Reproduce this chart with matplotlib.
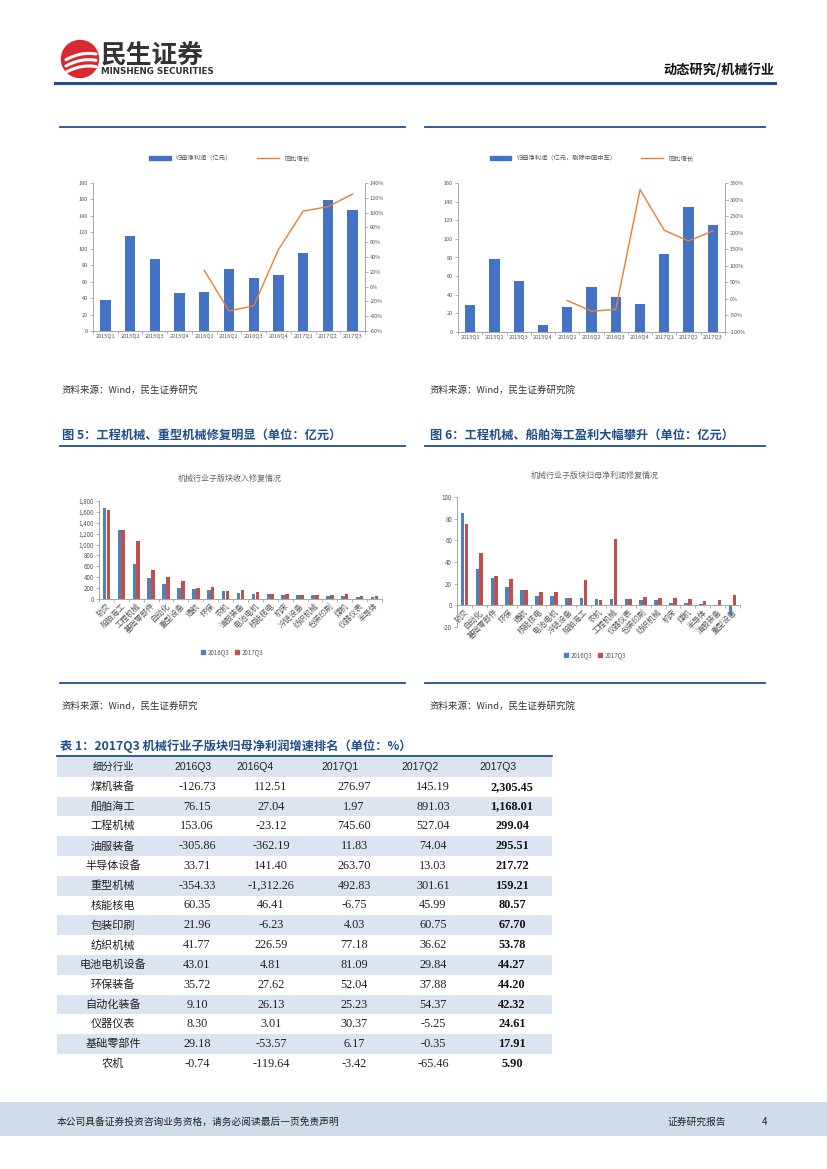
import numpy as np
import matplotlib
matplotlib.use("Agg")
import matplotlib.pyplot as plt
from matplotlib.patches import Rectangle, Circle, Patch
from matplotlib.lines import Line2D
from matplotlib.ticker import FuncFormatter, FixedLocator

plt.rcParams['font.family'] = ['Noto Sans CJK SC', 'DejaVu Sans']

# ---------------- data ----------------
quarters = ["2015Q1", "2015Q2", "2015Q3", "2015Q4", "2016Q1", "2016Q2",
            "2016Q3", "2016Q4", "2017Q1", "2017Q2", "2017Q3"]
profit_all = [38, 115, 88, 46, 47, 76, 65, 68, 95, 159, 147]
growth_all = [np.nan, np.nan, np.nan, np.nan, 22, -33, -26, 50, 102, 108, 125]
profit_ex = [29, 78, 55, 7, 27, 48, 38, 30, 84, 134, 115]
growth_ex = [np.nan, np.nan, np.nan, np.nan, -5, -37, -32, 330, 207, 175, 205]

rev_cats = ["轨交", "船舶海工", "工程机械", "基础零部件", "自动化", "重型设备", "通航",
            "环保", "农机", "油服装备", "电池电机", "核能核电", "机床", "冷链设备",
            "纺织机械", "包装印刷", "煤机", "仪器仪表", "半导体"]
rev_2016q3 = [1680, 1270, 650, 390, 275, 200, 175, 165, 155, 105, 95, 85, 70, 65, 65, 50, 50, 45, 30]
rev_2017q3 = [1630, 1270, 1060, 530, 400, 330, 195, 220, 140, 165, 135, 100, 85, 65, 75, 75, 90, 50, 50]

np_cats = ["轨交", "自动化", "基础零部件", "环保", "通航", "核能核电", "电池电机", "冷链设备",
           "船舶海工", "农机", "工程机械", "仪器仪表", "包装印刷", "纺织机械", "机床", "煤机",
           "半导体", "油服装备", "重型设备"]
np_2016q3 = [85.5, 33.5, 25, 17, 14.5, 9, 8.5, 7, 6.5, 5.5, 5.5, 5.5, 5, 4.5, 2.5, 2, 1.5, -1, -9]
np_2017q3 = [75.5, 48, 27, 24, 14, 12.5, 12.5, 6.5, 23.5, 5, 61.5, 6, 8, 6.5, 7, 5.5, 4, 4.5, 9.5]

tbl_header = ["细分行业", "2016Q3", "2016Q4", "2017Q1", "2017Q2", "2017Q3"]
tbl_ind = ["煤机装备", "船舶海工", "工程机械", "油服装备", "半导体设备", "重型机械", "核能核电",
           "包装印刷", "纺织机械", "电池电机设备", "环保装备", "自动化装备", "仪器仪表",
           "基础零部件", "农机"]
tbl_16q3 = [-126.73, 76.15, 153.06, -305.86, 33.71, -354.33, 60.35, 21.96, 41.77, 43.01, 35.72, 9.10, 8.30, 29.18, -0.74]
tbl_16q4 = [112.51, 27.04, -23.12, -362.19, 141.40, -1312.26, 46.41, -6.23, 226.59, 4.81, 27.62, 26.13, 3.01, -53.57, -119.64]
tbl_17q1 = [276.97, 1.97, 745.60, 11.83, 263.70, 492.83, -6.75, 4.03, 77.18, 81.09, 52.04, 25.23, 30.37, 6.17, -3.42]
tbl_17q2 = [145.19, 891.03, 527.04, 74.04, 13.03, 301.61, 45.99, 60.75, 36.62, 29.84, 37.88, 54.37, -5.25, -0.35, -65.46]
tbl_17q3 = [2305.45, 1168.01, 299.04, 295.51, 217.72, 159.21, 80.57, 67.70, 53.78, 44.27, 44.20, 42.32, 24.61, 17.91, 5.90]

# ---------------- figure ----------------
W, H = 827, 1169
fig = plt.figure(figsize=(W / 100, H / 100), dpi=100)
bg = fig.add_axes([0, 0, 1, 1])
bg.set_xlim(0, W)
bg.set_ylim(H, 0)
bg.axis('off')

def ax_px(x0, y0, x1, y1):
    a = fig.add_axes([x0 / W, 1 - y1 / H, (x1 - x0) / W, (y1 - y0) / H])
    a.set_facecolor('none')
    return a

BLUE_T = '#1f4e8c'
SERIF = ['Liberation Serif', 'DejaVu Serif']

# header
bg.add_patch(Circle((80, 59), 18.5, color='#d9282f'))
for k, off in enumerate([-7, 0, 7]):
    xs = np.linspace(66, 96, 30)
    ys = 66 + off * 0.9 - (xs - 66) * 0.55 + 0.012 * (xs - 66) ** 2
    bg.plot(xs, ys, color='white', lw=2.2, solid_capstyle='round')
bg.text(101, 55, "民生证券", fontsize=18.5, fontweight='bold', color='#333333', va='center', ha='left')
bg.text(101, 72, "MINSHENG SECURITIES", fontsize=6.3, fontweight='bold', color='#333333', va='center', ha='left',
        family=['DejaVu Sans'])
bg.text(775, 70, "动态研究/机械行业", fontsize=9.5, fontweight='bold', color='#111111', va='center', ha='right')
bg.plot([55, 775], [82.5, 82.5], color='#1f4e8c', lw=2.2)

# section lines
for (x0, x1) in [(60, 405), (425, 765)]:
    bg.plot([x0, x1], [127, 127], color='#1f4e8c', lw=1.3)
    bg.plot([x0, x1], [446, 446], color='#1f4e8c', lw=1.3)
    bg.plot([x0, x1], [683, 683], color='#1f4e8c', lw=1.3)

bg.text(62, 390, "资料来源：Wind，民生证券研究", fontsize=6.8, color='#333333', va='center', ha='left')
bg.text(430, 390, "资料来源：Wind，民生证券研究院", fontsize=6.8, color='#333333', va='center', ha='left')
bg.text(62, 706, "资料来源：Wind，民生证券研究", fontsize=6.8, color='#333333', va='center', ha='left')
bg.text(430, 706, "资料来源：Wind，民生证券研究院", fontsize=6.8, color='#333333', va='center', ha='left')
bg.text(62, 435, "图 5：工程机械、重型机械修复明显（单位：亿元）", fontsize=8.8, fontweight='bold',
        color=BLUE_T, va='center', ha='left')
bg.text(430, 435, "图 6：工程机械、船舶海工盈利大幅攀升（单位：亿元）", fontsize=8.8, fontweight='bold',
        color=BLUE_T, va='center', ha='left')

# ---------------- top charts ----------------
def top_chart(box, bars, growth, ylim, ystep, y2lim, y2step, legend_label):
    ax = ax_px(*box)
    x = np.arange(len(quarters))
    ax.bar(x, bars, width=0.42, color='#4472C4', zorder=2)
    ax.set_xlim(-0.5, len(quarters) - 0.5)
    ax.set_ylim(*ylim)
    ax.set_yticks(np.arange(ylim[0], ylim[1] + 0.1, ystep))
    ax.set_xticks(x)
    ax.set_xticklabels(quarters, fontsize=4, color='#555555')
    ax.xaxis.set_minor_locator(FixedLocator(np.arange(-0.5, len(quarters), 1)))
    ax.tick_params(axis='x', which='major', length=0, pad=2)
    ax.tick_params(axis='x', which='minor', length=2, color='#999999', width=0.5)
    ax.tick_params(axis='y', labelsize=4, labelcolor='#555555', length=2, color='#999999', width=0.5, pad=1.5)
    for s in ['top', 'right']:
        ax.spines[s].set_visible(False)
    for s in ['left', 'bottom']:
        ax.spines[s].set_color('#999999')
        ax.spines[s].set_linewidth(0.6)
    ax2 = ax.twinx()
    ax2.plot(x, growth, color='#ED7D31', lw=1.0, zorder=3)
    ax2.set_ylim(*y2lim)
    ax2.set_yticks(np.arange(y2lim[0], y2lim[1] + 0.1, y2step))
    ax2.yaxis.set_major_formatter(FuncFormatter(lambda v, p: f"{v:.0f}%"))
    ax2.tick_params(axis='y', labelsize=4, labelcolor='#555555', length=2, color='#999999', width=0.5, pad=1.5)
    for s in ['top', 'left', 'bottom']:
        ax2.spines[s].set_visible(False)
    ax2.spines['right'].set_color('#999999')
    ax2.spines['right'].set_linewidth(0.6)
    handles = [Patch(color='#4472C4'), Line2D([0], [0], color='#ED7D31', lw=1.0)]
    ax.legend(handles, [legend_label, "同比增长"], loc='lower center', bbox_to_anchor=(0.5, 1.1),
              ncol=2, frameon=False, fontsize=4.5, handlelength=3.5, handleheight=0.6,
              columnspacing=4, labelcolor='#555555')
    return ax

top_chart((93, 183, 365, 331), profit_all, growth_all, (0, 180), 20, (-60, 140), 20, "归母净利润（亿元）")
top_chart((458, 183, 725, 332), profit_ex, growth_ex, (0, 160), 20, (-100, 350), 50,
          "归母净利润（亿元，剔除中国中车）")

# ---------------- bottom charts ----------------
def cat_chart(box, cats, s1, s2, ylim, ystep, title, fmt, title_xy):
    ax = ax_px(*box)
    ax.spines['bottom'].set_position(('data', 0))
    x = np.arange(len(cats))
    w = 0.24
    ax.bar(x - w / 2 - 0.01, s1, width=w, color='#4F81BD', zorder=2)
    ax.bar(x + w / 2 + 0.01, s2, width=w, color='#C0504D', zorder=2)
    ax.set_xlim(-0.5, len(cats) - 0.5)
    ax.set_ylim(*ylim)
    ax.set_yticks(np.arange(ylim[0], ylim[1] + 0.1, ystep))
    ax.yaxis.set_major_formatter(FuncFormatter(fmt))
    ax.set_xticks(x)
    ax.set_xticklabels(cats, rotation=45, ha='right', rotation_mode='anchor', fontsize=5.6, color='#555555')
    ax.xaxis.set_minor_locator(FixedLocator(np.arange(-0.5, len(cats), 1)))
    ax.tick_params(axis='x', which='major', length=0, pad=2)
    ax.tick_params(axis='x', which='minor', length=2, color='#999999', width=0.5)
    ax.tick_params(axis='y', labelsize=4.5, labelcolor='#555555', length=2, color='#999999', width=0.5, pad=1.5)
    for s in ['top', 'right']:
        ax.spines[s].set_visible(False)
    ax.spines['left'].set_color('#999999')
    ax.spines['left'].set_linewidth(0.6)
    ax.spines['bottom'].set_color('#999999')
    ax.spines['bottom'].set_linewidth(0.6)
    bg.text(title_xy[0], title_xy[1], title, fontsize=5.8, color='#666666', ha='center', va='center')
    handles = [Patch(color='#4F81BD'), Patch(color='#C0504D')]
    return ax, handles

ax5, h5 = cat_chart((99, 501, 382, 599), rev_cats, rev_2016q3, rev_2017q3, (0, 1800), 200,
                    "机械行业子版块收入修复情况", lambda v, p: f"{v:,.0f}", (230, 478))
fig.legend(h5, ["2016Q3", "2017Q3"], loc='center', bbox_to_anchor=(232 / W, 1 - 652 / H), ncol=2,
           frameon=False, fontsize=4.4, handlelength=0.7, handleheight=0.7, columnspacing=1.0,
           handletextpad=0.3, labelcolor='#555555')

ax6, h6 = cat_chart((457, 497, 740, 627), np_cats, np_2016q3, np_2017q3, (-20, 100), 20,
                    "机械行业子版块归母净利润修复情况", lambda v, p: f"{v:.0f}", (595, 475))
fig.legend(h6, ["2016Q3", "2017Q3"], loc='center', bbox_to_anchor=(595 / W, 1 - 655 / H), ncol=2,
           frameon=False, fontsize=4.4, handlelength=0.7, handleheight=0.7, columnspacing=1.0,
           handletextpad=0.3, labelcolor='#555555')

# ---------------- table ----------------
bg.text(60, 746, "表 1：2017Q3 机械行业子版块归母净利润增速排名（单位：%）", fontsize=8.8, fontweight='bold',
        color=BLUE_T, va='center', ha='left')
bg.plot([57, 552], [755.5, 755.5], color='#1f4e8c', lw=1.3)
tx0, tx1 = 57, 552
ty0 = 757
rh = 19.8
row_fill = '#dbe5f1'
bg.add_patch(Rectangle((tx0, ty0), tx1 - tx0, rh, color=row_fill, lw=0))
hdr_x = [113, 193, 255, 340, 420, 498]
for j, t in enumerate(tbl_header):
    if j == 0:
        bg.text(hdr_x[j], ty0 + rh / 2, t, fontsize=7.5, color='#222222', ha='center', va='center')
    else:
        bg.text(hdr_x[j], ty0 + rh / 2, t, fontsize=7.5, color='#222222', ha='center', va='center',
                family=['Liberation Sans', 'DejaVu Sans'])
col_x = [113, 197, 271, 354, 433, 512]
for i, name in enumerate(tbl_ind):
    yc = ty0 + rh * (i + 1) + rh / 2
    if i % 2 == 1:
        bg.add_patch(Rectangle((tx0, ty0 + rh * (i + 1)), tx1 - tx0, rh, color=row_fill, lw=0))
    bg.text(col_x[0], yc, name, fontsize=8, color='#222222', ha='center', va='center')
    vals = [tbl_16q3[i], tbl_16q4[i], tbl_17q1[i], tbl_17q2[i]]
    for j, v in enumerate(vals):
        bg.text(col_x[j + 1], yc, f"{v:,.2f}", fontsize=8.8, color='#222222', ha='center', va='center',
                family=SERIF)
    bg.text(col_x[5], yc, f"{tbl_17q3[i]:,.2f}", fontsize=8.8, fontweight='bold', color='#111111',
            ha='center', va='center', family=SERIF)

# ---------------- footer ----------------
bg.add_patch(Rectangle((0, 1102), W, 34, color='#cfdcea', lw=0))
bg.text(57, 1122, "本公司具备证券投资咨询业务资格，请务必阅读最后一页免责声明", fontsize=7, color='#222222',
        ha='left', va='center')
bg.text(668, 1122, "证券研究报告", fontsize=7, color='#222222', ha='left', va='center')
bg.text(762, 1122, "4", fontsize=7, color='#222222', ha='left', va='center')

fig.savefig("out.png", dpi=100)
